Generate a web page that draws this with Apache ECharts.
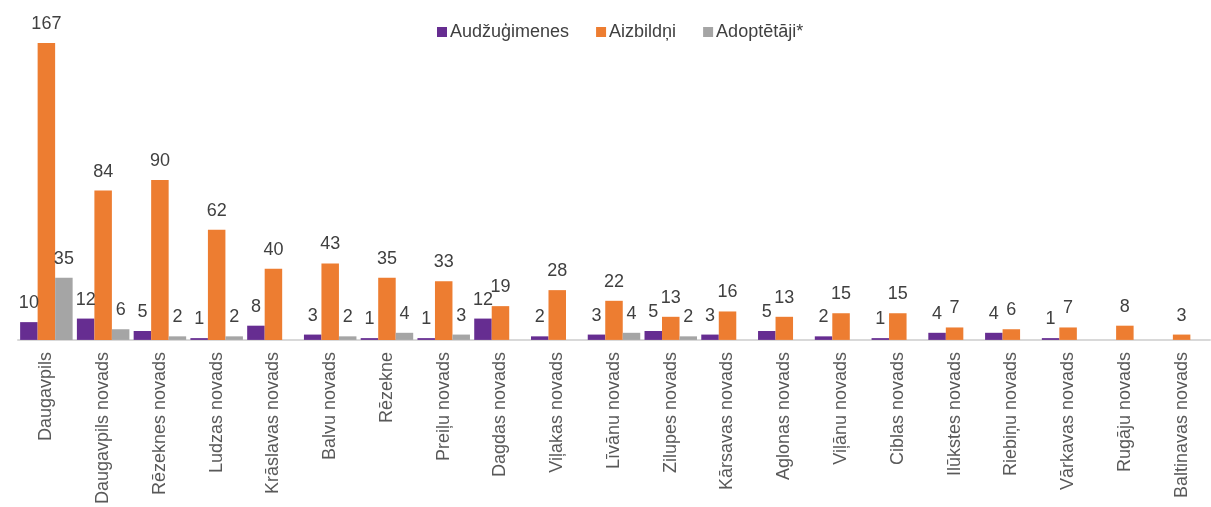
<!DOCTYPE html>
<html>
<head>
<meta charset="utf-8">
<script src="https://cdn.jsdelivr.net/npm/echarts@6/dist/echarts.min.js"></script>
<style>html,body{margin:0;padding:0;background:#fff}#c{width:1211px;height:507px}</style>
</head>
<body>
<div id="c"></div>
<script>
const categories = ["Daugavpils","Daugavpils novads","Rēzeknes novads","Ludzas novads","Krāslavas novads","Balvu novads","Rēzekne","Preiļu novads","Dagdas novads","Viļakas novads","Līvānu novads","Zilupes novads","Kārsavas novads","Aglonas novads","Viļānu novads","Ciblas novads","Ilūkstes novads","Riebiņu novads","Vārkavas novads","Rugāju novads","Baltinavas novads"];
const audzugimenes = [10,12,5,1,8,3,1,1,12,2,3,5,3,5,2,1,4,4,1,null,null];
const aizbildni = [167,84,90,62,40,43,35,33,19,28,22,13,16,13,15,15,7,6,7,8,3];
const adoptetaji = [35,6,2,2,null,2,4,3,null,null,4,2,null,null,null,null,null,null,null,null,null];
const seriesNames = ["Audžuģimenes","Aizbildņi","Adoptētāji*"];
const colors = ["#662D91","#ED7D31","#A5A5A5"];

const font = "'Liberation Sans', Arial, sans-serif";
const chart = echarts.init(document.getElementById('c'), null, {renderer:'canvas'});
const mk = (name, data, color) => ({
  name, type:'bar', data, barGap:'0%', barCategoryGap:'7.5%',
  itemStyle:{color},
  label:{show:true, position:'top', distance:10, color:'#404040', fontSize:18, fontFamily:font}
});
chart.setOption({
  animation:false,
  color: colors,
  legend:{
    top:23, left:437, padding:0, itemWidth:10, itemHeight:10, itemGap:27, icon:'rect',
    textStyle:{color:'#404040', fontSize:18, fontFamily:font, padding:[0,0,0,-2]}
  },
  grid:{left:18, right:1, top:20, bottom:165, containLabel:false},
  xAxis:{
    type:'category', data:categories,
    axisLine:{lineStyle:{color:'#D9D9D9', width:2}},
    axisTick:{show:false},
    axisLabel:{rotate:90, interval:0, margin:12, color:'#595959', fontSize:18, fontFamily:font}
  },
  yAxis:{type:'value', min:0, max:180, show:false, splitLine:{show:false}},
  series:[
    mk(seriesNames[0], audzugimenes, colors[0]),
    mk(seriesNames[1], aizbildni, colors[1]),
    mk(seriesNames[2], adoptetaji, colors[2])
  ]
});
</script>
</body>
</html>
